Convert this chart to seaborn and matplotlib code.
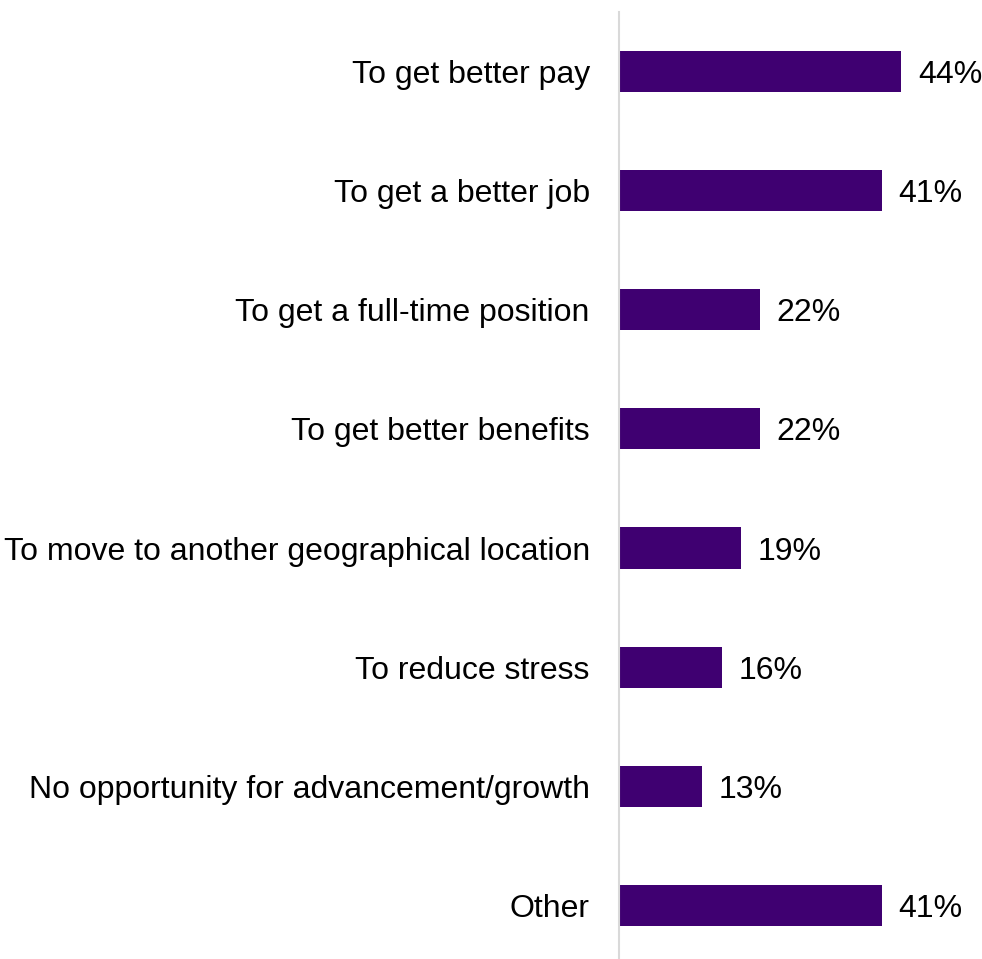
import matplotlib
matplotlib.use("Agg")
import matplotlib.pyplot as plt
import seaborn as sns
import pandas as pd

# Reasons for looking for a new job (share of respondents, %)
reasons = [
    "To get better pay",
    "To get a better job",
    "To get a full-time position",
    "To get better benefits",
    "To move to another geographical location",
    "To reduce stress",
    "No opportunity for advancement/growth",
    "Other",
]
shares = [44, 41, 22, 22, 19, 16, 13, 41]

df = pd.DataFrame({"reason": reasons, "share": shares})

sns.set_theme(style="white")
plt.rcParams["font.family"] = ["Liberation Sans", "DejaVu Sans"]

fig = plt.figure(figsize=(9.82, 9.59), dpi=100)
ax = fig.add_axes([619 / 982, 0.0, 1 - 619 / 982, 1 - 12 / 959])

sns.barplot(data=df, x="share", y="reason", color="#3F0071", saturation=1,
            width=0.345, ax=ax, edgecolor="none")

ax.set_xlim(0, 56.6)
ax.set_ylim(7.45, -0.5)
ax.set_xlabel("")
ax.set_ylabel("")
ax.set_xticks([])
for side in ("top", "right", "bottom"):
    ax.spines[side].set_visible(False)
ax.spines["left"].set_color("#D9D9D9")
ax.spines["left"].set_linewidth(1.5)
ax.tick_params(axis="y", length=0, pad=21, labelsize=23, labelcolor="black")
for lbl in ax.get_yticklabels():
    lbl.set_verticalalignment("center_baseline")

for i, v in enumerate(shares):
    ax.text(v + 2.6, i, f"{v}%", va="center_baseline", ha="left",
            fontsize=23, color="black")

fig.savefig("out.png", dpi=100)
